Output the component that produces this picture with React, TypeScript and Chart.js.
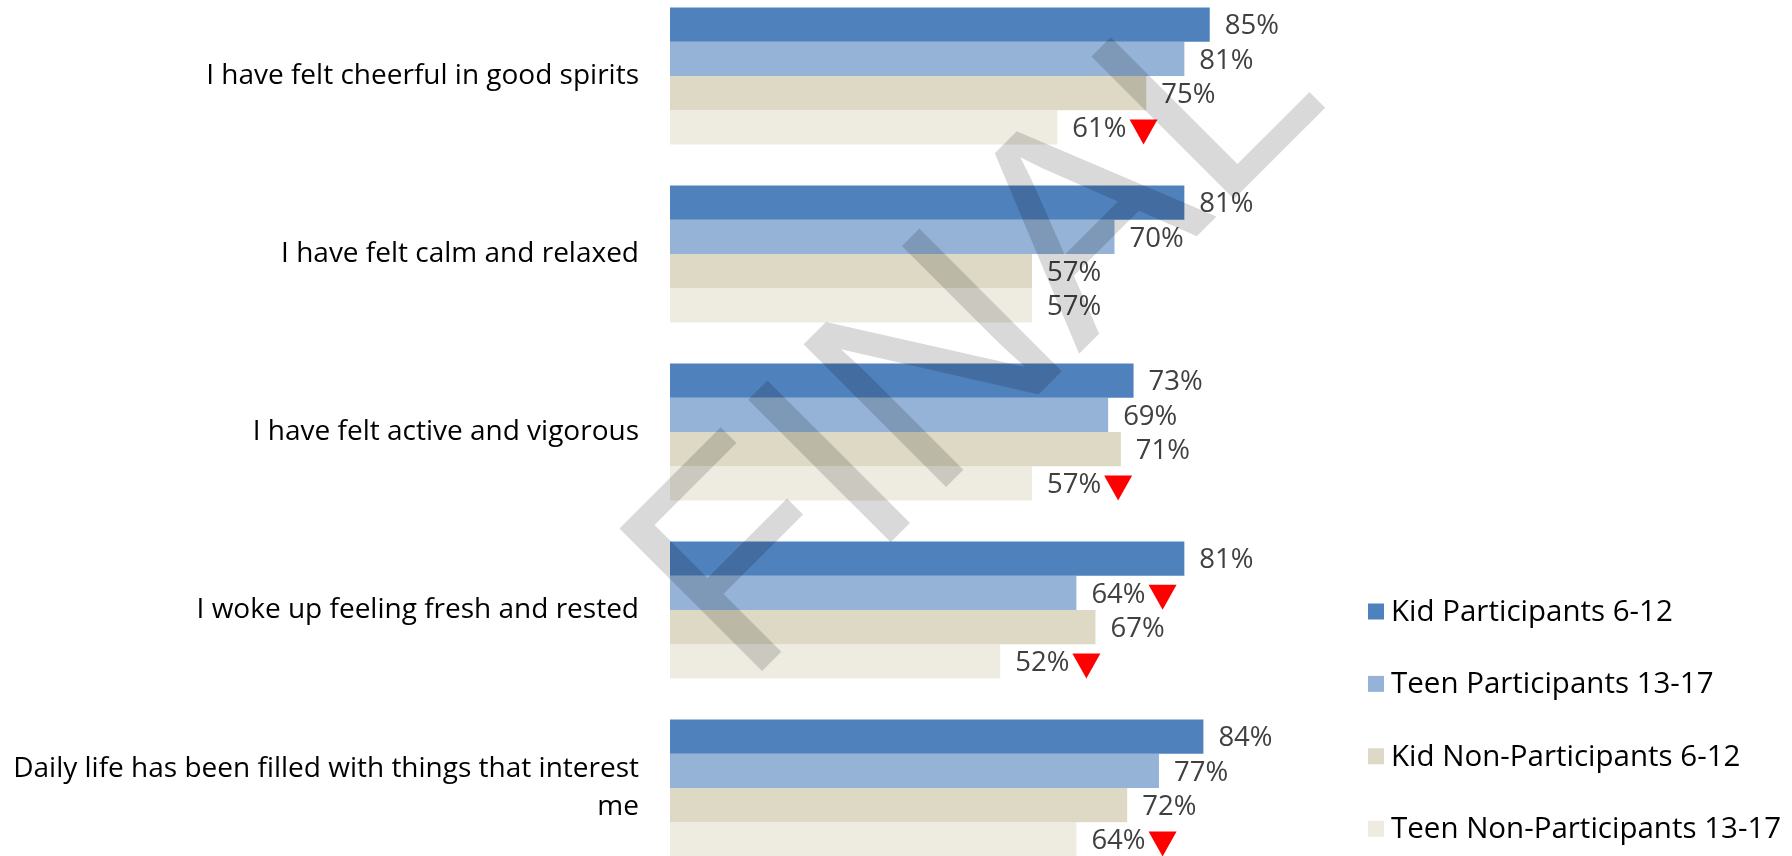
import React, { useEffect, useRef } from "react";
import { Chart, registerables } from "chart.js";

Chart.register(...registerables);

const categories: (string | string[])[] = [
  "I have felt cheerful in good spirits",
  "I have felt calm and relaxed",
  "I have felt active and vigorous",
  "I woke up feeling fresh and rested",
  ["Daily life has been filled with things that interest", "me"],
];

const seriesNames = [
  "Kid Participants 6-12",
  "Teen Participants 13-17",
  "Kid Non-Participants 6-12",
  "Teen Non-Participants 13-17",
];

const kidParticipants = [85, 81, 73, 81, 84];
const teenParticipants = [81, 70, 69, 64, 77];
const kidNonParticipants = [75, 57, 71, 67, 72];
const teenNonParticipants = [61, 57, 57, 52, 64];

// red down-arrow markers next to value labels
const kidParticipantsDown = [false, false, false, false, false];
const teenParticipantsDown = [false, false, false, true, false];
const kidNonParticipantsDown = [false, false, false, false, false];
const teenNonParticipantsDown = [true, false, true, true, true];

const seriesColors = ["#4F81BD", "#95B3D7", "#DDD9C4", "#EEECE1"];
const watermarkText = "FINAL";

const FONT = '"Open Sans", "Liberation Sans", sans-serif';

const valueLabels = {
  id: "valueLabels",
  afterDatasetsDraw(chart: any) {
    const ctx = chart.ctx;
    const flags = [kidParticipantsDown, teenParticipantsDown, kidNonParticipantsDown, teenNonParticipantsDown];
    ctx.save();
    ctx.font = `27.5px ${FONT}`;
    ctx.textBaseline = "middle";
    ctx.textAlign = "left";
    chart.data.datasets.forEach((ds: any, di: number) => {
      const meta = chart.getDatasetMeta(di);
      meta.data.forEach((el: any, i: number) => {
        const txt = `${ds.data[i]}%`;
        const x = el.x + 15;
        const y = el.y + 2;
        ctx.fillStyle = "#404040";
        ctx.fillText(txt, x, y);
        if (flags[di][i]) {
          const w = ctx.measureText(txt).width;
          const tx = x + w + 3;
          ctx.fillStyle = "#FF0000";
          ctx.beginPath();
          ctx.moveTo(tx, y - 10);
          ctx.lineTo(tx + 28, y - 10);
          ctx.lineTo(tx + 14, y + 15);
          ctx.closePath();
          ctx.fill();
        }
      });
    });
    ctx.restore();
  },
};

const legendAndWatermark = {
  id: "legendAndWatermark",
  afterDraw(chart: any) {
    const ctx = chart.ctx;
    ctx.save();
    // legend
    ctx.font = `29.5px ${FONT}`;
    ctx.textBaseline = "middle";
    ctx.textAlign = "left";
    chart.data.datasets.forEach((ds: any, i: number) => {
      const cy = 624.5 + i * 72.4;
      ctx.fillStyle = ds.backgroundColor;
      ctx.fillRect(1368, cy - 8, 16, 16);
      ctx.fillStyle = "#000000";
      ctx.fillText(ds.label, 1391, cy + 1);
    });
    // watermark
    ctx.translate(745, 701);
    ctx.rotate(-Math.PI / 4);
    ctx.font = '293px "Liberation Sans"';
    ctx.textBaseline = "alphabetic";
    ctx.fillStyle = "rgba(0,0,0,0.15)";
    ctx.fillText(watermarkText, 0, 0);
    ctx.restore();
  },
};

export default function App() {
  const canvasRef = useRef<HTMLCanvasElement | null>(null);

  useEffect(() => {
    if (!canvasRef.current) return;
    const values = [kidParticipants, teenParticipants, kidNonParticipants, teenNonParticipants];
    const chart = new Chart(canvasRef.current, {
      type: "bar",
      data: {
        labels: categories as any,
        datasets: values.map((v, i) => ({
          label: seriesNames[i],
          data: v,
          backgroundColor: seriesColors[i],
          borderWidth: 0,
          categoryPercentage: 0.77,
          barPercentage: 1.0,
        })),
      },
      options: {
        indexAxis: "y",
        responsive: false,
        animation: false,
        layout: { padding: { left: 0, right: 487, top: 0, bottom: 0 } },
        plugins: {
          legend: { display: false },
          tooltip: { enabled: false },
        },
        scales: {
          x: { display: false, min: 0, max: 100 },
          y: {
            grid: { display: false, drawTicks: false },
            border: { display: false },
            afterFit: (scale: any) => {
              scale.width = 670;
              scale.paddingTop = 0;
              scale.paddingBottom = 0;
            },
            ticks: {
              color: "#000000",
              padding: 31,
              font: { family: FONT, size: 28, lineHeight: 1.36 },
            },
          },
        },
      },
      plugins: [valueLabels, legendAndWatermark],
    });
    return () => chart.destroy();
  }, []);

  return (
    <div style={{ position: "fixed", left: 0, top: -13, width: 1792, height: 890, background: "#fff" }}>
      <canvas ref={canvasRef} width={1792} height={890} style={{ display: "block" }} />
    </div>
  );
}
